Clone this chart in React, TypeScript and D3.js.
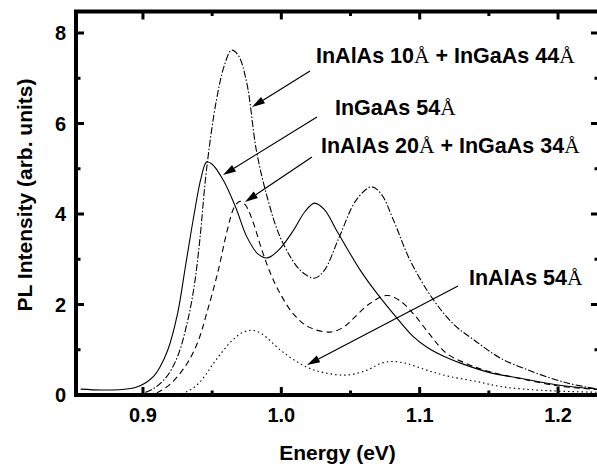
import React from "react";
import * as d3 from "d3";

const xTicksMajor = [0.9, 1.0, 1.1, 1.2];
const xTicksMinor = [0.95, 1.05, 1.15];
const yTicksMajor = [0, 2, 4, 6, 8];
const yTicksMinor = [1, 3, 5, 7];
const xTickLabels = ["0.9", "1.0", "1.1", "1.2"];
const yTickLabels = ["0", "2", "4", "6", "8"];

// InGaAs 54Å (solid)
const solidE = [0.855, 0.87, 0.885, 0.895, 0.902, 0.908, 0.912, 0.918, 0.925, 0.931, 0.937, 0.942, 0.946, 0.95, 0.958, 0.967, 0.975, 0.983, 0.99, 0.998, 1.009, 1.017, 1.024, 1.031, 1.041, 1.057, 1.069, 1.083, 1.095, 1.105, 1.117, 1.129, 1.15, 1.173, 1.2, 1.229];
const solidV = [0.13, 0.11, 0.12, 0.17, 0.27, 0.42, 0.6, 1.0, 1.8, 2.9, 4.0, 4.8, 5.15, 5.1, 4.75, 4.15, 3.5, 3.12, 3.03, 3.2, 3.65, 4.05, 4.24, 4.1, 3.58, 2.76, 2.25, 1.72, 1.3, 1.06, 0.86, 0.71, 0.5, 0.37, 0.22, 0.13];

// InAlAs 10Å + InGaAs 44Å (dash-dot)
const dashDotE = [0.893, 0.9, 0.908, 0.917, 0.925, 0.932, 0.937, 0.941, 0.946, 0.953, 0.959, 0.964, 0.969, 0.975, 0.982, 0.99, 0.999, 1.011, 1.018, 1.024, 1.031, 1.042, 1.054, 1.065, 1.072, 1.081, 1.093, 1.11, 1.125, 1.14, 1.158, 1.182, 1.206, 1.229];
const dashDotV = [0.0, 0.04, 0.15, 0.4, 0.85, 1.6, 2.4, 3.4, 5.0, 6.5, 7.3, 7.62, 7.5, 6.9, 5.4, 4.35, 3.5, 2.85, 2.65, 2.58, 2.75, 3.5, 4.3, 4.6, 4.45, 3.87, 2.98, 2.1, 1.55, 1.2, 0.82, 0.51, 0.27, 0.13];

// InAlAs 20Å + InGaAs 34Å (dashed)
const dashedE = [0.903, 0.91, 0.92, 0.932, 0.94, 0.946, 0.954, 0.961, 0.966, 0.97, 0.974, 0.979, 0.986, 0.992, 0.999, 1.009, 1.02, 1.035, 1.045, 1.051, 1.063, 1.076, 1.085, 1.095, 1.107, 1.119, 1.135, 1.15, 1.173, 1.2, 1.229];
const dashedV = [0.0, 0.05, 0.25, 0.7, 1.2, 1.8, 2.7, 3.65, 4.15, 4.28, 4.2, 3.87, 3.2, 2.7, 2.25, 1.78, 1.5, 1.39, 1.5, 1.66, 2.0, 2.2, 2.1, 1.81, 1.35, 0.93, 0.68, 0.52, 0.36, 0.2, 0.12];

// InAlAs 54Å (dotted)
const dottedE = [0.915, 0.929, 0.94, 0.951, 0.958, 0.965, 0.972, 0.979, 0.986, 0.999, 1.008, 1.018, 1.03, 1.047, 1.062, 1.072, 1.08, 1.09, 1.105, 1.12, 1.141, 1.16, 1.19, 1.229];
const dottedV = [0.0, 0.04, 0.25, 0.7, 0.98, 1.22, 1.38, 1.43, 1.35, 1.0, 0.8, 0.62, 0.5, 0.44, 0.55, 0.7, 0.74, 0.7, 0.55, 0.42, 0.3, 0.18, 0.1, 0.06];

const seriesNames = ["InAlAs 10", "InGaAs 54", "InAlAs 20", "InAlAs 54"];

const W = 597;
const H = 467;
const left = 76;
const right = 599;
const top = 11.5;
const bottom = 395;

const x = d3.scaleLinear().domain([0.8516, 1.2296]).range([left, right]);
const y = d3.scaleLinear().domain([0, 8]).range([bottom, 33]);

const line = d3
  .line<[number, number]>()
  .x((d) => x(d[0]))
  .y((d) => y(d[1]))
  .curve(d3.curveCatmullRom.alpha(0.5));

const zip = (a: number[], b: number[]) => a.map((v, i) => [v, b[i]] as [number, number]);

const series = [
  { pts: zip(solidE, solidV), dash: "none" },
  { pts: zip(dashDotE, dashDotV), dash: "7,2,1.5,2" },
  { pts: zip(dashedE, dashedV), dash: "6,4" },
  { pts: zip(dottedE, dottedV), dash: "1.5,3" },
];

const SANS = "'Liberation Sans', Arial, Helvetica, sans-serif";
const SERIF = "'Liberation Serif', 'Times New Roman', serif";

const annotations = [
  { pre: "InAlAs 10", mid: " + InGaAs 44", tx: 316, ty: 63, from: [310, 71], to: [252, 107] },
  { pre: "InGaAs 54", mid: null, tx: 335, ty: 115, from: [317, 117], to: [223, 175] },
  { pre: "InAlAs 20", mid: " + InGaAs 34", tx: 321, ty: 153, from: [312, 157], to: [245, 202] },
  { pre: "InAlAs 54", mid: null, tx: 469, ty: 285, from: [458, 286], to: [307, 365] },
];

function Arrow({ from, to }: { from: number[]; to: number[] }) {
  const dx = to[0] - from[0];
  const dy = to[1] - from[1];
  const len = Math.hypot(dx, dy);
  const ux = dx / len;
  const uy = dy / len;
  const hl = 13;
  const hw = 3.8;
  const bx = to[0] - ux * hl;
  const by = to[1] - uy * hl;
  const p1 = [bx - uy * hw, by + ux * hw];
  const p2 = [bx + uy * hw, by - ux * hw];
  return (
    <g>
      <line x1={from[0]} y1={from[1]} x2={bx} y2={by} stroke="#000" strokeWidth={1.2} />
      <polygon points={`${to[0]},${to[1]} ${p1[0]},${p1[1]} ${p2[0]},${p2[1]}`} fill="#000" />
    </g>
  );
}

export default function App() {
  return (
    <svg
      width={W}
      height={H}
      style={{ position: "absolute", left: 0, top: 0, background: "#fff" }}
    >
      <rect x={0} y={0} width={W} height={H} fill="#fff" />
      <defs>
        <clipPath id="plot">
          <rect x={left} y={top} width={right - left} height={bottom - top} />
        </clipPath>
      </defs>
      <g clipPath="url(#plot)">
        {series.map((s, i) => (
          <path
            key={seriesNames[i]}
            d={line(s.pts) || ""}
            fill="none"
            stroke="#000"
            strokeWidth={1.1}
            strokeDasharray={s.dash}
          />
        ))}
      </g>
      {/* ticks */}
      <g stroke="#000" strokeWidth={3}>
        {xTicksMajor.map((t) => (
          <g key={"xM" + t}>
            <line x1={x(t)} x2={x(t)} y1={bottom} y2={bottom - 8} />
            <line x1={x(t)} x2={x(t)} y1={top} y2={top + 8} />
          </g>
        ))}
        {xTicksMinor.map((t) => (
          <g key={"xm" + t}>
            <line x1={x(t)} x2={x(t)} y1={bottom} y2={bottom - 4.5} />
            <line x1={x(t)} x2={x(t)} y1={top} y2={top + 4.5} />
          </g>
        ))}
        {yTicksMajor.map((t) => (
          <g key={"yM" + t}>
            <line x1={left} x2={left + 8} y1={y(t)} y2={y(t)} />
            <line x1={right} x2={right - 8} y1={y(t)} y2={y(t)} />
          </g>
        ))}
        {yTicksMinor.map((t) => (
          <g key={"ym" + t}>
            <line x1={left} x2={left + 4.5} y1={y(t)} y2={y(t)} />
            <line x1={right} x2={right - 4.5} y1={y(t)} y2={y(t)} />
          </g>
        ))}
      </g>
      {/* frame */}
      <rect
        x={left}
        y={top}
        width={right - left}
        height={bottom - top}
        fill="none"
        stroke="#000"
        strokeWidth={4}
      />
      {/* tick labels */}
      <g fontFamily={SANS} fontWeight="bold" fontSize={20} fill="#000">
        {xTicksMajor.map((t, i) => (
          <text key={"xl" + t} x={x(t)} y={422} textAnchor="middle">
            {xTickLabels[i]}
          </text>
        ))}
        {yTicksMajor.map((t, i) => (
          <text key={"yl" + t} x={66} y={y(t) + 7} textAnchor="end">
            {yTickLabels[i]}
          </text>
        ))}
      </g>
      {/* axis titles */}
      <text
        x={(left + right) / 2}
        y={460}
        textAnchor="middle"
        fontFamily={SANS}
        fontWeight="bold"
        fontSize={21}
      >
        Energy (eV)
      </text>
      <text
        transform={`translate(32,195) rotate(-90)`}
        textAnchor="middle"
        fontFamily={SANS}
        fontWeight="bold"
        fontSize={21}
      >
        PL Intensity (arb. units)
      </text>
      {/* annotations */}
      {annotations.map((a, i) => (
        <g key={"ann" + i}>
          <text x={a.tx} y={a.ty} fontFamily={SANS} fontWeight="bold" fontSize={21.5}>
            {a.pre}
            <tspan fontFamily={SERIF} fontWeight="normal">Å</tspan>
            {a.mid ? (
              <>
                {a.mid}
                <tspan fontFamily={SERIF} fontWeight="normal">Å</tspan>
              </>
            ) : null}
          </text>
          <Arrow from={a.from} to={a.to} />
        </g>
      ))}
    </svg>
  );
}
